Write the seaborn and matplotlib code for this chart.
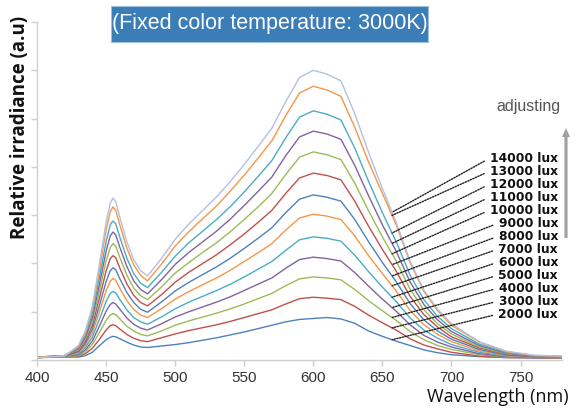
import numpy as np
import pandas as pd
import matplotlib
matplotlib.use("Agg")
import matplotlib.pyplot as plt
from matplotlib.patches import Rectangle, FancyArrow
import seaborn as sns

# ---------------- data ----------------
wavelength = [400, 420, 430, 435, 440, 445, 450, 453, 455, 457, 460, 465, 470, 475, 480, 490,
              500, 510, 520, 530, 540, 550, 560, 570, 580, 590, 600, 610, 620, 630, 640, 650,
              660, 670, 680, 690, 700, 720, 740, 760, 780]

lux_levels = [2000, 3000, 4000, 5000, 6000, 7000, 8000, 9000, 10000, 11000, 12000, 13000, 14000]

lux_2000 = [0.05, 0.06, 0.06, 0.09, 0.16, 0.29, 0.42, 0.47, 0.49, 0.48, 0.44, 0.37, 0.31, 0.27, 0.26, 0.29,
            0.32, 0.36, 0.41, 0.46, 0.52, 0.58, 0.65, 0.72, 0.79, 0.84, 0.86, 0.88, 0.85, 0.76, 0.60, 0.49,
            0.39, 0.30, 0.21, 0.15, 0.11, 0.07, 0.05, 0.04, 0.04]
lux_3000 = [0.05, 0.07, 0.08, 0.13, 0.24, 0.42, 0.62, 0.71, 0.73, 0.71, 0.64, 0.53, 0.45, 0.40, 0.38, 0.46,
            0.54, 0.61, 0.67, 0.73, 0.80, 0.88, 0.96, 1.04, 1.16, 1.27, 1.30, 1.28, 1.25, 1.11, 0.93, 0.77,
            0.62, 0.44, 0.31, 0.23, 0.16, 0.08, 0.05, 0.05, 0.04]
lux_4000 = [0.05, 0.07, 0.09, 0.17, 0.32, 0.56, 0.82, 0.93, 0.96, 0.94, 0.85, 0.70, 0.60, 0.53, 0.50, 0.60,
            0.72, 0.81, 0.89, 0.97, 1.06, 1.16, 1.27, 1.38, 1.54, 1.68, 1.72, 1.70, 1.66, 1.46, 1.23, 1.02,
            0.82, 0.59, 0.42, 0.30, 0.22, 0.11, 0.06, 0.05, 0.05]
lux_5000 = [0.06, 0.08, 0.11, 0.21, 0.39, 0.69, 1.01, 1.15, 1.19, 1.16, 1.05, 0.87, 0.74, 0.66, 0.62, 0.75,
            0.89, 1.00, 1.10, 1.20, 1.31, 1.44, 1.57, 1.70, 1.90, 2.08, 2.13, 2.10, 2.05, 1.81, 1.53, 1.26,
            1.01, 0.73, 0.51, 0.37, 0.27, 0.13, 0.07, 0.05, 0.05]
lux_6000 = [0.05, 0.08, 0.13, 0.26, 0.47, 0.83, 1.21, 1.38, 1.42, 1.39, 1.25, 1.04, 0.88, 0.79, 0.74, 0.89,
            1.06, 1.20, 1.32, 1.44, 1.57, 1.72, 1.88, 2.04, 2.27, 2.49, 2.55, 2.52, 2.46, 2.17, 1.83, 1.51,
            1.21, 0.87, 0.62, 0.45, 0.32, 0.16, 0.08, 0.06, 0.05]
lux_7000 = [0.06, 0.08, 0.15, 0.30, 0.55, 0.98, 1.43, 1.63, 1.69, 1.65, 1.48, 1.23, 1.05, 0.93, 0.88, 1.06,
            1.26, 1.42, 1.56, 1.70, 1.86, 2.04, 2.22, 2.41, 2.69, 2.94, 3.02, 2.98, 2.91, 2.57, 2.16, 1.79,
            1.43, 1.03, 0.73, 0.53, 0.38, 0.19, 0.09, 0.06, 0.05]
lux_8000 = [0.05, 0.08, 0.17, 0.34, 0.63, 1.11, 1.62, 1.85, 1.91, 1.87, 1.68, 1.40, 1.19, 1.05, 0.99, 1.20,
            1.43, 1.61, 1.77, 1.93, 2.11, 2.31, 2.52, 2.74, 3.05, 3.33, 3.42, 3.37, 3.29, 2.91, 2.45, 2.02,
            1.62, 1.17, 0.83, 0.60, 0.43, 0.22, 0.10, 0.07, 0.06]
lux_9000 = [0.06, 0.09, 0.19, 0.39, 0.71, 1.26, 1.84, 2.10, 2.16, 2.12, 1.90, 1.58, 1.34, 1.19, 1.12, 1.35,
            1.61, 1.82, 2.00, 2.18, 2.39, 2.61, 2.85, 3.10, 3.45, 3.77, 3.87, 3.82, 3.73, 3.29, 2.77, 2.29,
            1.84, 1.32, 0.94, 0.68, 0.48, 0.25, 0.12, 0.07, 0.06]
lux_10000 = [0.05, 0.09, 0.22, 0.43, 0.79, 1.40, 2.05, 2.33, 2.41, 2.36, 2.12, 1.76, 1.49, 1.33, 1.25, 1.51,
             1.80, 2.02, 2.23, 2.43, 2.66, 2.91, 3.17, 3.45, 3.84, 4.20, 4.31, 4.25, 4.15, 3.66, 3.09, 2.55,
             2.05, 1.47, 1.04, 0.75, 0.54, 0.27, 0.13, 0.08, 0.06]
lux_11000 = [0.06, 0.09, 0.24, 0.47, 0.87, 1.54, 2.25, 2.57, 2.65, 2.59, 2.33, 1.94, 1.64, 1.46, 1.37, 1.66,
             1.98, 2.23, 2.45, 2.67, 2.92, 3.20, 3.49, 3.79, 4.23, 4.62, 4.74, 4.68, 4.57, 4.03, 3.40, 2.80,
             2.25, 1.62, 1.15, 0.83, 0.59, 0.30, 0.14, 0.08, 0.07]
lux_12000 = [0.05, 0.09, 0.26, 0.52, 0.95, 1.68, 2.45, 2.80, 2.88, 2.82, 2.54, 2.11, 1.79, 1.59, 1.50, 1.81,
             2.15, 2.43, 2.67, 2.91, 3.18, 3.48, 3.80, 4.13, 4.60, 5.03, 5.16, 5.09, 4.97, 4.39, 3.70, 3.05,
             2.45, 1.76, 1.25, 0.90, 0.65, 0.33, 0.15, 0.09, 0.07]
lux_13000 = [0.06, 0.09, 0.28, 0.57, 1.04, 1.84, 2.69, 3.07, 3.17, 3.10, 2.79, 2.32, 1.97, 1.75, 1.64, 1.98,
             2.36, 2.66, 2.93, 3.19, 3.50, 3.83, 4.18, 4.54, 5.06, 5.53, 5.67, 5.59, 5.46, 4.82, 4.10, 3.45,
             2.80, 2.02, 1.42, 1.02, 0.72, 0.37, 0.17, 0.09, 0.08]
lux_14000 = [0.05, 0.08, 0.30, 0.60, 1.10, 1.95, 2.85, 3.25, 3.35, 3.28, 2.95, 2.45, 2.08, 1.85, 1.74, 2.10,
             2.50, 2.82, 3.10, 3.38, 3.70, 4.05, 4.42, 4.80, 5.35, 5.85, 6.00, 5.92, 5.78, 5.10, 4.30, 3.55,
             2.85, 2.05, 1.45, 1.05, 0.75, 0.38, 0.18, 0.10, 0.08]

series = [lux_2000, lux_3000, lux_4000, lux_5000, lux_6000, lux_7000, lux_8000,
          lux_9000, lux_10000, lux_11000, lux_12000, lux_13000, lux_14000]

x_ticks = [400, 450, 500, 550, 600, 650, 700, 750]
label_texts = [f"{v} lux" for v in lux_levels]

colors = ["#4F81BD", "#C0504D", "#9BBB59", "#8064A2", "#4BACC6", "#F79646",
          "#4F81BD", "#C0504D", "#9BBB59", "#8064A2", "#4BACC6", "#F79646", "#B3C0E2"]

# ---------------- build long table ----------------
rows = []
for lux, vals in zip(lux_levels, series):
    for w, v in zip(wavelength, vals):
        rows.append((w, v, lux))
df = pd.DataFrame(rows, columns=["wavelength", "irradiance", "lux"])

sns.set_theme(style="white")
plt.rcParams["font.family"] = ["Liberation Sans", "DejaVu Sans"]

W, H = 576, 411
fig = plt.figure(figsize=(W / 100, H / 100), dpi=100)
ax = fig.add_axes([37 / W, 1 - 360 / H, (562 - 37) / W, (360 - 22) / H])

sns.lineplot(data=df, x="wavelength", y="irradiance", hue="lux", hue_order=lux_levels,
             palette=colors, legend=False, linewidth=1.0, ax=ax, sort=False)

ax.set_xlim(400, 780)
ax.set_ylim(0, 7)
ax.set_xticks(x_ticks)
ax.set_xticklabels([str(t) for t in x_ticks], fontsize=11, color="#333333")
ax.set_yticks(range(0, 8))
ax.set_yticklabels([])
ax.set_xlabel("")
ax.set_ylabel("")
for side in ["top", "right"]:
    ax.spines[side].set_visible(False)
for side in ["left", "bottom"]:
    ax.spines[side].set_color("#D0D0D0")
    ax.spines[side].set_linewidth(1.0)
ax.tick_params(axis="both", which="both", direction="out", length=4, width=1,
               color="#D0D0D0", left=True, bottom=True)
ax.tick_params(axis="x", pad=4)

# axis titles
fig.text(569 / W, 1 - 397 / H, "Wavelength (nm)", ha="right", va="center",
         fontsize=13, family=["Open Sans", "DejaVu Sans"], color="#111111")
fig.text(20 / W, 1 - 127 / H, "Relative irradiance (a.u)", rotation=90, ha="center",
         va="center", fontsize=13.5, fontweight="bold", family=["Open Sans", "DejaVu Sans"],
         color="#111111")

# title box
fig.add_artist(Rectangle((111 / W, 1 - 42 / H), 317 / W, 36 / H, transform=fig.transFigure,
                         facecolor="#3B7DB7", edgecolor="#9FC0DD", linewidth=0.8))
fig.text(269.5 / W, 1 - 24 / H, "(Fixed color temperature: 3000K)", ha="center", va="center",
         fontsize=15.5, color="white")

# adjusting arrow
fig.text(528 / W, 1 - 106 / H, "adjusting", ha="center", va="center", fontsize=11.5,
         color="#555555")
fig.add_artist(FancyArrow(566 / W, 1 - 238 / H, 0, (238 - 128) / H, width=2.2 / H,
                          head_width=8 / W, head_length=9 / H, length_includes_head=True,
                          transform=fig.transFigure, color="#A0A0A0", linewidth=0))

# lux labels with dotted leaders
label_top = 158
label_step = 13.0
n = len(lux_levels)
for i, (lux, vals) in enumerate(zip(lux_levels, series)):
    ypix = label_top + (n - 1 - i) * label_step
    yv = np.interp(657, wavelength, vals)
    ax.annotate(label_texts[i], xy=(657, yv), xycoords="data",
                xytext=(558, H - ypix), textcoords="figure pixels",
                ha="right", va="center", fontsize=8.8, fontweight="bold",
                family=["DejaVu Sans"], color="#111111",
                arrowprops=dict(arrowstyle="-", linestyle=(0, (1, 1)), color="#222222",
                                lw=1.0, relpos=(0, 0.5), shrinkA=2, shrinkB=0))

fig.savefig("out.png", dpi=100)
